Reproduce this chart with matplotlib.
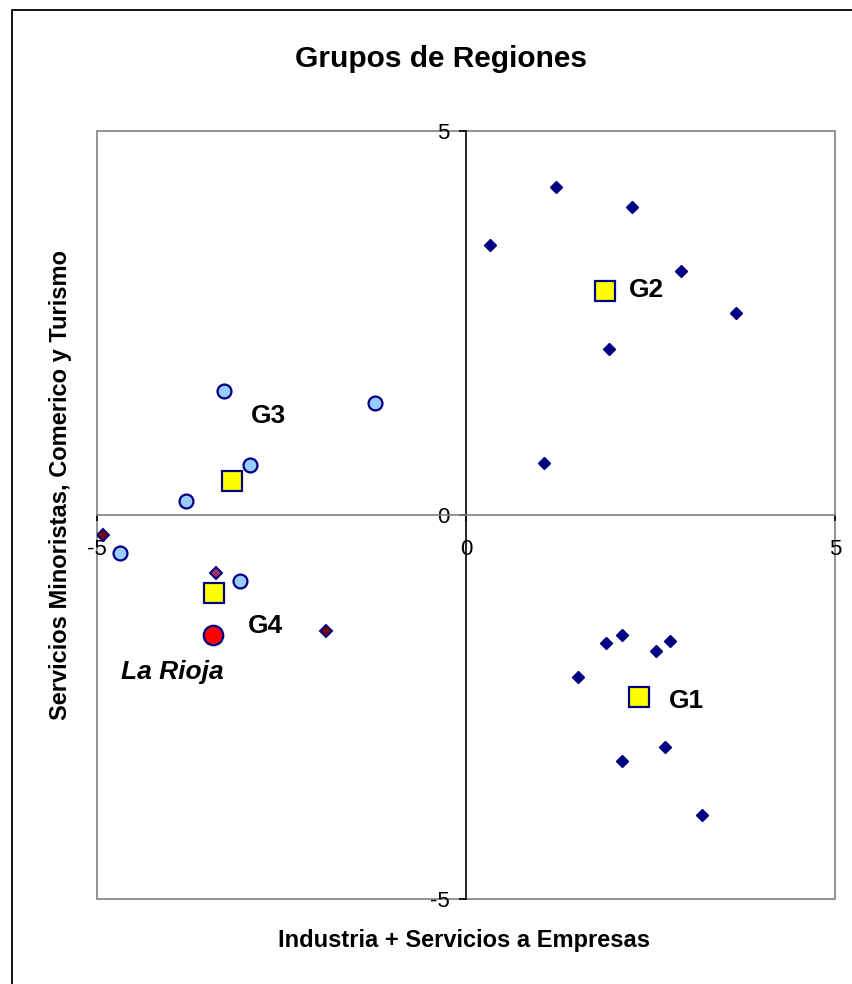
import numpy as np
import matplotlib
matplotlib.use('Agg')
import matplotlib.pyplot as plt
from matplotlib.patches import Rectangle

plt.rcParams['font.family'] = ['Liberation Sans', 'DejaVu Sans']
plt.rcParams['axes.unicode_minus'] = False

# group 1 (lower right) and group 2 (upper right) regions
g1_x = [1.90, 2.11, 2.57, 2.76, 1.52, 2.70, 2.11, 3.20]
g1_y = [-1.67, -1.56, -1.77, -1.64, -2.11, -3.02, -3.20, -3.91]
g2_x = [1.22, 2.25, 0.33, 2.91, 3.66, 1.94, 1.06]
g2_y = [4.27, 4.01, 3.52, 3.18, 2.63, 2.16, 0.68]

# group 3 regions (circles)
g3_x = [-3.28, -1.23, -2.93, -3.79, -4.69, -3.06]
g3_y = [1.61, 1.46, 0.65, 0.18, -0.49, -0.86]

# group 4 regions (maroon diamonds, one plum)
g4_x = [-4.92, -1.90]
g4_y = [-0.26, -1.51]
g4b_x = [-3.39]
g4b_y = [-0.76]

# La Rioja
rioja_x = [-3.43]
rioja_y = [-1.56]

# group centroids
cent_names = ['G1', 'G2', 'G3', 'G4']
cent_x = [2.34, 1.88, -3.17, -3.41]
cent_y = [-2.37, 2.92, 0.44, -1.02]

# label positions
lab_x = [2.99, 2.44, -2.68, -2.72]
lab_y = [-2.42, 2.93, 1.29, -1.45]

navy = '#000080'

fig = plt.figure(figsize=(8.53, 9.84), dpi=100)
fig.patches.append(Rectangle((12/853, -0.1), 2, 1.1 - 10/984, transform=fig.transFigure,
                             fill=False, edgecolor='black', lw=1.3, zorder=0))

ax = fig.add_axes([97/853, 1 - 899/984, 738/853, 768/984])
ax.set_xlim(-5, 5)
ax.set_ylim(-5, 5)

# plot area frame
ax.add_patch(Rectangle((0, 0), 1, 1, transform=ax.transAxes, fill=False,
                       edgecolor='#808080', lw=1.2, clip_on=False, zorder=1))
ax.spines['top'].set_visible(False)
ax.spines['right'].set_visible(False)
ax.spines['left'].set_position(('data', 0))
ax.spines['bottom'].set_position(('data', 0))
ax.spines['left'].set_color('black')
ax.spines['bottom'].set_color('#808080')
ax.spines['left'].set_linewidth(1.2)
ax.spines['bottom'].set_linewidth(1.2)

ticks = [-5, 0, 5]
ax.set_xticks(ticks)
ax.set_yticks(ticks)
ax.tick_params(axis='x', direction='out', length=4, width=1.2, color='black',
               labelsize=16, pad=13)
ax.tick_params(axis='y', direction='out', length=5, width=1.2, color='black',
               labelsize=16, pad=7)

ax.plot(g2_x, g2_y, 'D', ms=6.5, mfc=navy, mec=navy, zorder=3)
ax.plot(g1_x, g1_y, 'D', ms=6.5, mfc=navy, mec=navy, zorder=3)
ax.plot(g3_x, g3_y, 'o', ms=10, mfc='#99CCFF', mec=navy, mew=1.6, zorder=3)
ax.plot(g4_x, g4_y, 'D', ms=6.5, mfc='#800000', mec=navy, mew=1.4, zorder=3)
ax.plot(g4b_x, g4b_y, 'D', ms=6.5, mfc='#993366', mec=navy, mew=1.4, zorder=3)
ax.plot(rioja_x, rioja_y, 'o', ms=14, mfc='#FF0000', mec=navy, mew=1.6, zorder=3)
ax.plot(cent_x, cent_y, 's', ms=15, mfc='#FFFF00', mec=navy, mew=1.6, zorder=4)

for name, x, y in zip(cent_names, lab_x, lab_y):
    ax.text(x, y, name, fontsize=19, fontweight='bold', ha='center', va='center')
ax.text(-3.98, -2.04, 'La Rioja', fontsize=19, fontweight='bold', style='italic',
        ha='center', va='center')

ax.set_xlabel('Industria + Servicios a Empresas', fontsize=17, fontweight='bold')
ax.xaxis.set_label_coords((464.5 - 97) / 738, (899 - 940) / 768)
ax.xaxis.label.set_va('center')
ax.set_ylabel('Servicios Minoristas, Comerico y Turismo', fontsize=17, fontweight='bold')
ax.yaxis.set_label_coords((61 - 97) / 738, (899 - 485) / 768)
ax.yaxis.label.set_va('center')
ax.yaxis.label.set_ha('center')

fig.text(441/853, 1 - 59/984, 'Grupos de Regiones', fontsize=21.5, fontweight='bold',
         ha='center', va='center')

fig.savefig('out.png', dpi=100)
